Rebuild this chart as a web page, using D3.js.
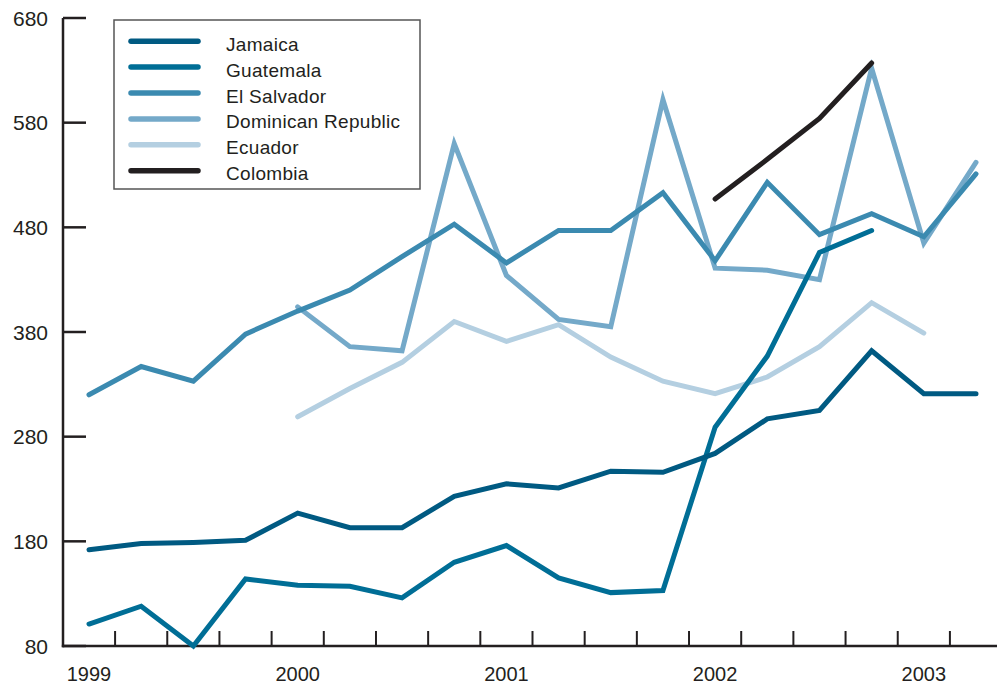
<!DOCTYPE html>
<html>
<head>
<meta charset="utf-8">
<script src="https://cdn.jsdelivr.net/npm/d3@7"></script>
<style>
  html, body { margin: 0; padding: 0; background: #ffffff; }
  svg { display: block; }
  text { font-family: "Liberation Sans", Arial, sans-serif; fill: #231f20; }
</style>
</head>
<body>
<svg id="chart" width="997" height="685"></svg>
<script>
// ---- data (quarterly, 1999 Q1 .. 2003 Q2) ----
const quarters = ["1999Q1","1999Q2","1999Q3","1999Q4","2000Q1","2000Q2","2000Q3","2000Q4",
                  "2001Q1","2001Q2","2001Q3","2001Q4","2002Q1","2002Q2","2002Q3","2002Q4",
                  "2003Q1","2003Q2"];
const yearLabels = ["1999","2000","2001","2002","2003"];
const yTicks = [80,180,280,380,480,580,680];

const jamaica    = [172,178,179,181,207,193,193,223,235,231,247,246,264,297,305,362,321,321];
const guatemala  = [101,118,80,144,138,137,126,160,176,145,131,133,289,357,456,477,null,null];
const elSalvador = [320,347,333,378,400,420,452,483,446,477,477,513,448,523,473,493,471,531];
const dominican  = [null,null,null,null,404,366,362,560,434,392,385,602,441,439,430,632,465,542];
const ecuador    = [null,null,null,null,299,326,351,390,371,387,356,333,321,337,366,408,379,null];
const colombia   = [null,null,null,null,null,null,null,null,null,null,null,null,507,545,584,637,null,null];

const seriesNames  = ["Jamaica","Guatemala","El Salvador","Dominican Republic","Ecuador","Colombia"];
const seriesValues = [jamaica, guatemala, elSalvador, dominican, ecuador, colombia];
const seriesColors = ["#005a82","#006e96","#3b8ab0","#74a9c9","#b4cfe1","#231f20"];
const drawOrder    = [4,3,2,1,0,5];

// ---- layout ----
const svg = d3.select("#chart");
const axisX = 63, axisBottom = 646, axisTop = 18, axisRight = 997;
const x = d3.scaleLinear().domain([0, quarters.length - 1]).range([89, 976]);
const y = d3.scaleLinear().domain([80, 680]).range([axisBottom, axisTop]);
const ink = "#231f20";

// y axis
svg.append("line").attr("x1", axisX).attr("x2", axisX).attr("y1", axisTop).attr("y2", axisBottom + 1.2)
  .attr("stroke", ink).attr("stroke-width", 2.5);
svg.selectAll(".ytick").data(yTicks).enter().append("line")
  .attr("x1", axisX).attr("x2", 86).attr("y1", d => y(d)).attr("y2", d => y(d))
  .attr("stroke", ink).attr("stroke-width", 2.5);
svg.selectAll(".ylab").data(yTicks).enter().append("text")
  .attr("x", 48).attr("y", d => y(d)).attr("dy", "0.36em")
  .attr("text-anchor", "end").attr("font-size", 21).text(d => d);

// x axis
svg.append("line").attr("x1", axisX - 1.2).attr("x2", axisRight).attr("y1", axisBottom).attr("y2", axisBottom)
  .attr("stroke", ink).attr("stroke-width", 2.5);
const bounds = d3.range(0, quarters.length - 1).map(i => i + 0.5);
svg.selectAll(".xtick").data(bounds).enter().append("line")
  .attr("x1", d => x(d)).attr("x2", d => x(d)).attr("y1", axisBottom).attr("y2", axisBottom - 15)
  .attr("stroke", ink).attr("stroke-width", 2);
svg.selectAll(".xlab").data(yearLabels).enter().append("text")
  .attr("x", d => x(quarters.indexOf(d + "Q1"))).attr("y", 680.5)
  .attr("text-anchor", "middle").attr("font-size", 20).text(d => d);

// lines
const line = d3.line()
  .defined(d => d != null)
  .x((d, i) => x(i))
  .y(d => y(d));
drawOrder.forEach(k => {
  svg.append("path")
    .attr("d", line(seriesValues[k]))
    .attr("fill", "none")
    .attr("stroke", seriesColors[k])
    .attr("stroke-width", 5)
    .attr("stroke-linejoin", "miter")
    .attr("stroke-miterlimit", 10)
    .attr("stroke-linecap", "round");
});

// legend
const lg = svg.append("g");
lg.append("rect").attr("x", 114).attr("y", 20).attr("width", 306).attr("height", 169)
  .attr("fill", "#ffffff").attr("stroke", "#555555").attr("stroke-width", 1.5);
seriesNames.forEach((name, i) => {
  const base = 50.7 + i * 25.9;
  lg.append("line").attr("x1", 131).attr("x2", 198).attr("y1", base - 9.5).attr("y2", base - 9.5)
    .attr("stroke", seriesColors[i]).attr("stroke-width", 5.5).attr("stroke-linecap", "round");
  lg.append("text").attr("x", 226).attr("y", base).attr("font-size", 19)
    .attr("letter-spacing", 0.3).text(name);
});
</script>
</body>
</html>
